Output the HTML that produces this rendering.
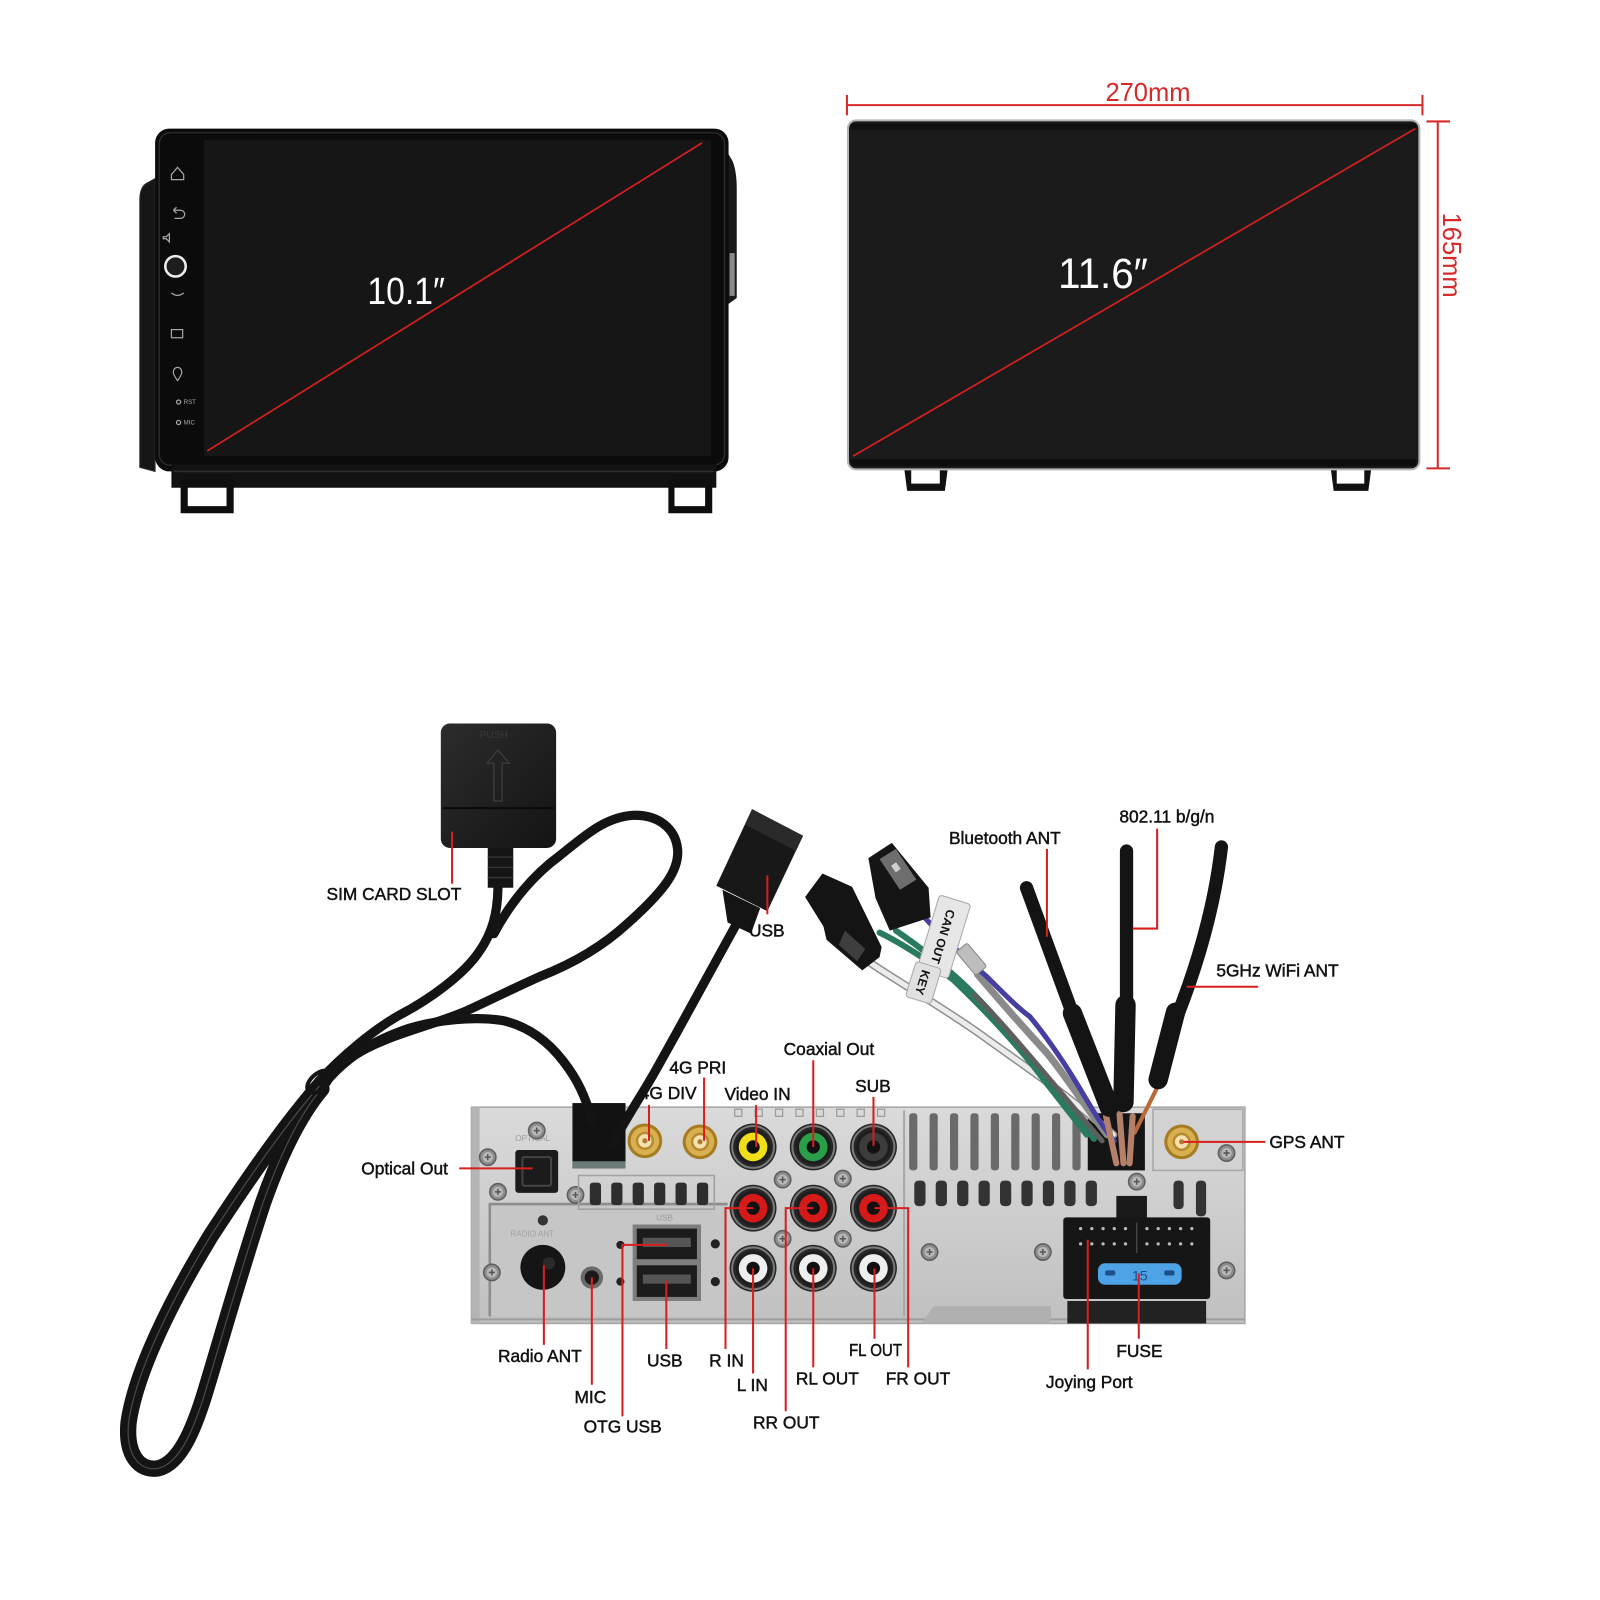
<!DOCTYPE html>
<html><head><meta charset="utf-8">
<style>
html,body{margin:0;padding:0;background:#fff;width:1600px;height:1600px;overflow:hidden}
svg{display:block}
</style></head><body>
<svg width="1600" height="1600" viewBox="0 0 1568 1568" xmlns="http://www.w3.org/2000/svg" font-family="'Liberation Sans', Arial, sans-serif">
<defs>
 <linearGradient id="sil" x1="0" y1="0" x2="0" y2="1"><stop offset="0" stop-color="#dadada"/><stop offset="0.5" stop-color="#cdcdcd"/><stop offset="1" stop-color="#c0c0c0"/></linearGradient>
 <linearGradient id="simg" x1="0" y1="0" x2="1" y2="1"><stop offset="0" stop-color="#2c2c2c"/><stop offset="1" stop-color="#141414"/></linearGradient>
 <g id="screw"><circle r="8" fill="#8d8d8d" stroke="#5e5e5e" stroke-width="1.5"/><circle r="5" fill="#b8b8b8"/><path d="M-3,0H3M0,-3V3" stroke="#555" stroke-width="1.5"/></g>
 <g id="sma"><circle r="17" fill="#a67c22"/><circle r="14" fill="#d9b050"/><circle r="9" fill="#b88a30"/><circle r="6.5" fill="#f3e2b0"/><circle r="2.5" fill="#b07a30"/></g>
 <g id="rcab"><circle r="23" fill="#262626"/><circle r="20.5" fill="none" stroke="#7a7a7a" stroke-width="2"/><circle r="17" fill="#1d1d1d"/></g>
</defs>
<rect width="1568" height="1568" fill="#fff"/>

<!-- ================= TOP LEFT 10.1 DEVICE ================= -->
<path d="M152,175 L143,180 Q137,184 137,196 L137,458 L152,462 Z" fill="#161616" stroke="#2e2e2e" stroke-width="1"/>
<path d="M711,146 L718,158 Q722,168 722,185 L722,292 L711,300 Z" fill="#1a1a1a"/>
<rect x="715" y="248" width="5" height="42" fill="#8a8a8a"/>
<rect x="152" y="126" width="562" height="336" rx="14" fill="#0b0b0b"/>
<rect x="156" y="130" width="554" height="326" rx="11" fill="none" stroke="#2a2a2a" stroke-width="1.5"/>
<rect x="200" y="137" width="497" height="310" fill="#161616"/>
<rect x="168" y="455" width="534" height="23" fill="#121212"/>
<line x1="170" y1="462" x2="700" y2="462" stroke="#2e2e2e" stroke-width="1.5"/>
<path d="M177,470 H229 V503 H177 Z M184,477 V496 H222 V477 Z" fill="#0e0e0e" fill-rule="evenodd"/>
<path d="M655,470 H698 V503 H655 Z M661,477 V496 H691 V477 Z" fill="#0e0e0e" fill-rule="evenodd"/>
<g stroke="#a8a8a8" stroke-width="1.2" fill="none">
 <path d="M168,171 L174,164 L180,171 V176 H168 Z"/>
 <path d="M170,206 H177 A4,4 0 0 1 177,214 H171 M170,206 L173,203 M170,206 L173,209"/>
 <path d="M160,232 h3 l3,-3 v8 l-3,-3 h-3 z"/>
 <path d="M168,287 Q174,292 180,287"/>
 <rect x="168" y="323" width="11" height="8"/>
 <path d="M174,373 Q169,366 170,364 A4,4 0 1 1 178,364 Q179,366 174,373 Z"/>
 <circle cx="175" cy="394" r="2"/>
 <circle cx="175" cy="414" r="2"/>
</g>
<circle cx="172" cy="261" r="10" fill="#1e1e1e" stroke="#eeeeee" stroke-width="2.5"/>
<text x="180" y="396" font-size="6" fill="#aaa">RST</text>
<text x="180" y="416" font-size="6" fill="#aaa">MIC</text>
<line x1="203" y1="442" x2="688" y2="140" stroke="#d42020" stroke-width="1.7"/>
<text x="360" y="298" font-size="37" fill="#fff" textLength="76" lengthAdjust="spacingAndGlyphs">10.1″</text>

<!-- ================= TOP RIGHT 11.6 DEVICE ================= -->
<path d="M886,458 H929 L926,481 H889 Z M893,458 V474 H921 V458 Z" fill="#111" fill-rule="evenodd"/>
<path d="M1304,458 H1344 L1341,481 H1307 Z M1310,458 V474 H1337 V458 Z" fill="#111" fill-rule="evenodd"/>
<rect x="831" y="118" width="560" height="342" rx="8" fill="#1b1b1b" stroke="#b5b5b5" stroke-width="2"/>
<rect x="834" y="121" width="554" height="6" fill="#0f0f0f"/>
<rect x="834" y="450" width="554" height="7" fill="#0d0d0d"/>
<line x1="836" y1="447" x2="1387" y2="126" stroke="#d42020" stroke-width="1.7"/>
<text x="1037" y="282" font-size="42" fill="#fff" textLength="88" lengthAdjust="spacingAndGlyphs">11.6″</text>
<g stroke="#d62a2a" stroke-width="2">
 <line x1="830" y1="103" x2="1394" y2="103"/>
 <line x1="830" y1="93" x2="830" y2="113"/>
 <line x1="1394" y1="93" x2="1394" y2="113"/>
 <line x1="1409" y1="119" x2="1409" y2="459"/>
 <line x1="1398" y1="119" x2="1421" y2="119"/>
 <line x1="1398" y1="459" x2="1421" y2="459"/>
</g>
<text x="1125" y="99" font-size="25" fill="#d62a2a" text-anchor="middle">270mm</text>
<text transform="translate(1414,250) rotate(90)" font-size="25" fill="#d62a2a" text-anchor="middle">165mm</text>

<!-- ================= BOTTOM: PANEL ================= -->
<rect x="462" y="1085" width="758" height="212" fill="url(#sil)" stroke="#a5a5a5" stroke-width="1.5"/>
<rect x="462" y="1085" width="8" height="212" fill="#b4b4b4"/>
<line x1="886" y1="1088" x2="886" y2="1290" stroke="#a8a8a8" stroke-width="2"/>
<rect x="480" y="1180" width="233" height="110" fill="#c6c6c6"/>
<path d="M480,1290 V1180 H713" fill="none" stroke="#8c8c8c" stroke-width="2.5"/>
<line x1="462" y1="1293" x2="1220" y2="1293" stroke="#9d9d9d" stroke-width="2"/>
<rect x="505" y="1127" width="42" height="42" rx="3" fill="#1b1b1b"/>
<rect x="512" y="1134" width="28" height="28" rx="2" fill="none" stroke="#444" stroke-width="2"/>
<text x="505" y="1118" font-size="8" fill="#9a9a9a">OPTICAL</text>
<use href="#screw" x="526" y="1108"/>
<use href="#screw" x="478" y="1134"/>
<use href="#screw" x="488" y="1168"/>
<use href="#screw" x="564" y="1171"/>
<use href="#screw" x="482" y="1247"/>
<rect x="567" y="1152" width="133" height="33" fill="none" stroke="#a0a0a0" stroke-width="1.5"/>
<g fill="#2e2e2e">
 <rect x="578" y="1159" width="11" height="22" rx="3"/>
 <rect x="599" y="1159" width="11" height="22" rx="3"/>
 <rect x="620" y="1159" width="11" height="22" rx="3"/>
 <rect x="641" y="1159" width="11" height="22" rx="3"/>
 <rect x="662" y="1159" width="11" height="22" rx="3"/>
 <rect x="683" y="1159" width="11" height="22" rx="3"/>
</g>
<circle cx="532" cy="1196" r="5" fill="#333"/>
<circle cx="532" cy="1242" r="22" fill="#151515"/>
<circle cx="538" cy="1238" r="6" fill="#2a2a2a"/>
<text x="500" y="1212" font-size="8" fill="#a0a0a0">RADIO ANT</text>
<circle cx="580" cy="1252" r="11" fill="#6a6a6a"/>
<circle cx="580" cy="1252" r="7" fill="#1a1a1a"/>
<circle cx="608" cy="1220" r="4" fill="#222"/>
<circle cx="608" cy="1256" r="4" fill="#222"/>
<rect x="620" y="1200" width="67" height="75" fill="#7e7e7e"/>
<rect x="624" y="1204" width="59" height="30" fill="#1c1c1c"/>
<rect x="630" y="1213" width="47" height="9" fill="#555"/>
<rect x="624" y="1240" width="59" height="31" fill="#1c1c1c"/>
<rect x="630" y="1249" width="47" height="9" fill="#555"/>
<circle cx="701" cy="1219" r="4.5" fill="#222"/>
<circle cx="701" cy="1256" r="4.5" fill="#222"/>
<text x="643" y="1196" font-size="8" fill="#9a9a9a">USB</text>
<g fill="none" stroke="#9a9a9a" stroke-width="1.2">
 <rect x="720" y="1087" width="7" height="7"/><rect x="740" y="1087" width="7" height="7"/><rect x="760" y="1087" width="7" height="7"/>
 <rect x="780" y="1087" width="7" height="7"/><rect x="800" y="1087" width="7" height="7"/><rect x="820" y="1087" width="7" height="7"/>
 <rect x="840" y="1087" width="7" height="7"/><rect x="860" y="1087" width="7" height="7"/>
</g>
<use href="#sma" x="632" y="1118"/>
<use href="#sma" x="686" y="1119"/>
<use href="#rcab" x="738" y="1124"/><circle cx="738" cy="1124" r="14" fill="#f0de18"/><circle cx="738" cy="1124" r="6.5" fill="#111"/>
<use href="#rcab" x="797" y="1124"/><circle cx="797" cy="1124" r="14" fill="#2a9e48"/><circle cx="797" cy="1124" r="6.5" fill="#111"/>
<use href="#rcab" x="856" y="1124"/><circle cx="856" cy="1124" r="14" fill="#3c3c3c"/><circle cx="856" cy="1124" r="6.5" fill="#111"/>
<use href="#rcab" x="738" y="1184"/><circle cx="738" cy="1184" r="14" fill="#d61a1a"/><circle cx="738" cy="1184" r="6.5" fill="#111"/>
<use href="#rcab" x="797" y="1184"/><circle cx="797" cy="1184" r="14" fill="#d61a1a"/><circle cx="797" cy="1184" r="6.5" fill="#111"/>
<use href="#rcab" x="856" y="1184"/><circle cx="856" cy="1184" r="14" fill="#d61a1a"/><circle cx="856" cy="1184" r="6.5" fill="#111"/>
<use href="#rcab" x="738" y="1243"/><circle cx="738" cy="1243" r="14" fill="#eeeeee"/><circle cx="738" cy="1243" r="6.5" fill="#111"/>
<use href="#rcab" x="797" y="1243"/><circle cx="797" cy="1243" r="14" fill="#eeeeee"/><circle cx="797" cy="1243" r="6.5" fill="#111"/>
<use href="#rcab" x="856" y="1243"/><circle cx="856" cy="1243" r="14" fill="#eeeeee"/><circle cx="856" cy="1243" r="6.5" fill="#111"/>
<use href="#screw" x="767" y="1156"/>
<use href="#screw" x="826" y="1155"/>
<use href="#screw" x="767" y="1214"/>
<use href="#screw" x="826" y="1214"/>
<g fill="#6a6a6a">
 <rect x="891" y="1091" width="8" height="56" rx="3"/><rect x="911" y="1091" width="8" height="56" rx="3"/>
 <rect x="931" y="1091" width="8" height="56" rx="3"/><rect x="951" y="1091" width="8" height="56" rx="3"/>
 <rect x="971" y="1091" width="8" height="56" rx="3"/><rect x="991" y="1091" width="8" height="56" rx="3"/>
 <rect x="1011" y="1091" width="8" height="56" rx="3"/><rect x="1031" y="1091" width="8" height="56" rx="3"/>
 <rect x="1051" y="1091" width="8" height="56" rx="3"/>
</g>
<g fill="#333">
 <rect x="896" y="1157" width="11" height="25" rx="4"/><rect x="917" y="1157" width="11" height="25" rx="4"/>
 <rect x="938" y="1157" width="11" height="25" rx="4"/><rect x="959" y="1157" width="11" height="25" rx="4"/>
 <rect x="980" y="1157" width="11" height="25" rx="4"/><rect x="1001" y="1157" width="11" height="25" rx="4"/>
 <rect x="1022" y="1157" width="11" height="25" rx="4"/><rect x="1043" y="1157" width="11" height="25" rx="4"/>
 <rect x="1064" y="1157" width="11" height="25" rx="4"/><rect x="1150" y="1157" width="10" height="28" rx="4"/>
 <rect x="1172" y="1157" width="10" height="35" rx="4"/>
</g>
<rect x="1066" y="1091" width="56" height="56" fill="#151515"/>
<rect x="1130" y="1087" width="88" height="60" fill="#d2d2d2" stroke="#a5a5a5" stroke-width="1.5"/>
<use href="#sma" x="1158" y="1119"/>
<use href="#screw" x="1202" y="1130"/>
<use href="#screw" x="1114" y="1158"/>
<use href="#screw" x="911" y="1227"/>
<use href="#screw" x="1022" y="1227"/>
<use href="#screw" x="1202" y="1245"/>
<path d="M903,1297 L915,1280 H1030 V1297 Z" fill="#b0b0b0"/>
<rect x="1094" y="1172" width="30" height="24" fill="#1a1a1a"/>
<rect x="1042" y="1193" width="144" height="80" rx="3" fill="#161616"/>
<rect x="1046" y="1275" width="136" height="22" fill="#222"/>
<line x1="1114" y1="1198" x2="1114" y2="1228" stroke="#444" stroke-width="1.5"/>
<g fill="#bbb">
 <circle cx="1059" cy="1204" r="1.6"/><circle cx="1070" cy="1204" r="1.6"/><circle cx="1081" cy="1204" r="1.6"/><circle cx="1092" cy="1204" r="1.6"/><circle cx="1103" cy="1204" r="1.6"/>
 <circle cx="1124" cy="1204" r="1.6"/><circle cx="1135" cy="1204" r="1.6"/><circle cx="1146" cy="1204" r="1.6"/><circle cx="1157" cy="1204" r="1.6"/><circle cx="1168" cy="1204" r="1.6"/>
 <circle cx="1059" cy="1219" r="1.6"/><circle cx="1070" cy="1219" r="1.6"/><circle cx="1081" cy="1219" r="1.6"/><circle cx="1092" cy="1219" r="1.6"/><circle cx="1103" cy="1219" r="1.6"/>
 <circle cx="1124" cy="1219" r="1.6"/><circle cx="1135" cy="1219" r="1.6"/><circle cx="1146" cy="1219" r="1.6"/><circle cx="1157" cy="1219" r="1.6"/><circle cx="1168" cy="1219" r="1.6"/>
</g>
<rect x="1076" y="1238" width="82" height="21" rx="7" fill="#4ea2e6"/>
<rect x="1083" y="1245" width="10" height="5" rx="2" fill="#1d4f8a"/>
<rect x="1141" y="1245" width="10" height="5" rx="2" fill="#1d4f8a"/>
<text x="1117" y="1255" font-size="14" fill="#1d4f8a" text-anchor="middle">15</text>

<!-- ================= HARNESS ================= -->
<g fill="none" stroke-linecap="round">
 <path d="M852,943 C880,962 920,985 960,1013 C1000,1042 1040,1068 1091,1112" stroke="#8f8f8f" stroke-width="8"/>
 <path d="M852,943 C880,962 920,985 960,1013 C1000,1042 1040,1068 1091,1112" stroke="#ececec" stroke-width="5"/>
 <path d="M862,914 C885,925 915,945 934,960 C960,985 995,1020 1026,1062 C1040,1080 1052,1095 1065,1112" stroke="#2a7a60" stroke-width="6"/>
 <path d="M878,912 C900,927 930,950 950,970 C975,995 1005,1030 1036,1068 C1048,1085 1060,1100 1072,1116" stroke="#2a7a60" stroke-width="6"/>
 <path d="M955,975 C990,1010 1030,1060 1080,1118" stroke="#5e5e5e" stroke-width="5"/>
 <path d="M958,955 C975,975 993,996 1026,1032 C1045,1055 1060,1080 1085,1112" stroke="#8a8a8a" stroke-width="7"/>
 <path d="M890,880 C905,900 935,930 967,957 C985,975 1000,990 1009,996 C1025,1015 1042,1039 1065,1078 C1075,1095 1085,1110 1092,1118" stroke="#463ea0" stroke-width="5"/>
 <path d="M1133,1068 L1112,1110" stroke="#b86a3a" stroke-width="4"/>
 <path d="M1084,1094 L1094,1140 M1097,1090 L1101,1140 M1110,1094 L1107,1140" stroke="#b5806a" stroke-width="6"/>
</g>
<g fill="none" stroke="#141414" stroke-linecap="round">
 <path d="M1006,870 L1051,993" stroke-width="13"/>
 <path d="M1051,993 L1087,1085" stroke-width="19"/>
 <path d="M1104,834 L1104,985" stroke-width="13"/>
 <path d="M1103,985 L1101,1080" stroke-width="20"/>
 <path d="M1197,830 C1190,890 1172,950 1152,1000" stroke-width="13"/>
 <path d="M1152,992 L1135,1058" stroke-width="19"/>
</g>
<path d="M851,841 L874,826 L910,870 L912,899 L872,912 L858,880 Z" fill="#151515"/>
<path d="M862,842 L878,832 L898,862 L882,872 Z" fill="#6e6e6e"/>
<rect x="875" y="846" width="6" height="8" fill="#cfcfcf" transform="rotate(-35 878 850)"/>
<path d="M789,879 L806,856 L835,869 L864,928 L862,938 L845,951 L810,921 L807,908 Z" fill="#141414"/>
<path d="M828,912 L848,930 L840,942 L822,926 Z" fill="#3e3e3e"/>
<g transform="translate(925,918) rotate(107)">
 <rect x="-38" y="-16" width="76" height="32" rx="3" fill="#e6e6e6" stroke="#a8a8a8"/>
 <text x="0" y="5" font-size="12" font-weight="bold" fill="#111" text-anchor="middle">CAN OUT</text>
</g>
<g transform="translate(905,963) rotate(107)">
 <rect x="-18" y="-13" width="36" height="26" rx="3" fill="#e0e0e0" stroke="#a8a8a8"/>
 <text x="0" y="5" font-size="12" font-weight="bold" fill="#111" text-anchor="middle">KEY</text>
</g>
<rect x="945" y="925" width="14" height="30" rx="2" fill="#bdbdbd" stroke="#888" transform="rotate(-40 952 940)"/>

<text x="627" y="1077" font-size="17" fill="#111" stroke="#111" stroke-width="0.45">4G DIV</text>
<path d="M636,1083 V1118" stroke="#d81e1e" stroke-width="2" fill="none"/>

<!-- ================= CABLES ================= -->
<rect x="561" y="1081" width="52" height="64" fill="#121212"/>
<rect x="561" y="1138" width="52" height="7" fill="#6a7a78"/>
<!-- loop: double cable -->
<path d="M315,1062 C284,1097 245,1152 206,1212 C167,1276 133,1345 126,1394 C123,1425 136,1442 155,1439 C176,1434 190,1402 203,1358 C221,1298 238,1238 258,1178 C275,1130 294,1092 315,1067" fill="none" stroke="#141414" stroke-width="16" stroke-linecap="round" stroke-linejoin="round"/>
<path d="M315,1062 C284,1097 245,1152 206,1212 C167,1276 133,1345 126,1394 C123,1425 136,1442 155,1439 C176,1434 190,1402 203,1358 C221,1298 238,1238 258,1178 C275,1130 294,1092 315,1067" fill="none" stroke="#4a4a4a" stroke-width="1.2"/>
<g fill="none" stroke="#141414" stroke-width="9" stroke-linecap="round" stroke-linejoin="round">
 <path d="M488,868 C488,895 482,915 470,932 C455,955 420,980 391,995 C365,1010 335,1035 312,1060"/>
 <path d="M484,915 C500,885 522,858 548,839 C572,820 592,801 620,799 C645,798 662,812 664,832 C666,852 652,872 615,905 C590,928 560,945 529,957 C500,970 470,985 454,992 C425,1004 390,1012 360,1027 C345,1035 330,1045 316,1058"/>
 <path d="M318,1062 C340,1035 370,1018 400,1008 C430,999 465,996 492,1000 C515,1005 535,1018 552,1040 C566,1058 574,1075 580,1098"/>
 <path d="M722,905 C700,945 670,1000 642,1050 C626,1078 612,1098 600,1122"/>
</g>
<ellipse cx="313" cy="1060" rx="14" ry="8" fill="none" stroke="#141414" stroke-width="4" transform="rotate(-40 313 1060)"/>
<!-- SIM box -->
<path d="M478,828 H503 V870 H478 Z" fill="#151515"/>
<g stroke="#333" stroke-width="1.5"><line x1="478" y1="840" x2="503" y2="840"/><line x1="478" y1="850" x2="503" y2="850"/><line x1="478" y1="860" x2="503" y2="860"/></g>
<rect x="432" y="709" width="113" height="122" rx="9" fill="url(#simg)"/>
<line x1="434" y1="792" x2="543" y2="792" stroke="#0a0a0a" stroke-width="2"/>
<text x="470" y="723" font-size="10" fill="#3a3a3a">PUSH</text>
<path d="M484,785 V748 L477,748 L488,735 L499,748 L492,748 V785 Z" fill="none" stroke="#3a3a3a" stroke-width="1.5"/>
<!-- USB connector -->
<path d="M708,872 L745,890 L736,915 L713,904 Z" fill="#141414"/>
<path d="M737,793 L787,819 L752,893 L702,868 Z" fill="#181818"/>
<path d="M737,793 L787,819 L780,834 L730,808 Z" fill="#2a2a2a"/>

<!-- ================= LEADERS ================= -->
<g stroke="#d81e1e" stroke-width="2" fill="none">
 <path d="M443,815 V866"/>
 <path d="M752,858 V896"/>
 <path d="M1026,832 V918"/>
 <path d="M1134,812 V910 H1110"/>
 <path d="M1163,967 H1233"/>
 <path d="M690,1056 V1118"/>
 <path d="M741,1083 V1124"/>
 <path d="M797,1039 V1124"/>
 <path d="M856,1075 V1123"/>
 <path d="M450,1145 H522"/>
 <path d="M1160,1119 H1240"/>
 <path d="M533,1240 V1318"/>
 <path d="M580,1252 V1357"/>
 <path d="M654,1220 H610 V1388"/>
 <path d="M653,1255 V1322"/>
 <path d="M738,1184 H711 V1322"/>
 <path d="M738,1243 V1346"/>
 <path d="M797,1184 H770 V1383"/>
 <path d="M797,1243 V1340"/>
 <path d="M857,1243 V1312"/>
 <path d="M857,1184 H890 V1340"/>
 <path d="M1116,1248 V1312"/>
 <path d="M1066,1215 V1342"/>
</g>

<!-- ================= LABELS ================= -->
<g font-size="17" fill="#111" stroke="#111" stroke-width="0.45">
 <text x="320" y="882">SIM CARD SLOT</text>
 <text x="734" y="918">USB</text>
 <text x="930" y="827">Bluetooth ANT</text>
 <text x="1097" y="806">802.11 b/g/n</text>
 <text x="1192" y="957">5GHz WiFi ANT</text>
 <text x="656" y="1052">4G PRI</text>
 <text x="710" y="1078">Video IN</text>
 <text x="768" y="1034">Coaxial Out</text>
 <text x="838" y="1070">SUB</text>
 <text x="354" y="1151">Optical Out</text>
 <text x="1244" y="1125">GPS ANT</text>
 <text x="488" y="1335">Radio ANT</text>
 <text x="563" y="1375">MIC</text>
 <text x="572" y="1404">OTG USB</text>
 <text x="634" y="1339">USB</text>
 <text x="695" y="1339">R IN</text>
 <text x="722" y="1363">L IN</text>
 <text x="738" y="1400">RR OUT</text>
 <text x="780" y="1357">RL OUT</text>
 <text x="832" y="1329" textLength="52" lengthAdjust="spacingAndGlyphs">FL OUT</text>
 <text x="868" y="1357">FR OUT</text>
 <text x="1094" y="1330">FUSE</text>
 <text x="1025" y="1360">Joying Port</text>
</g>
</svg>
</body></html>
